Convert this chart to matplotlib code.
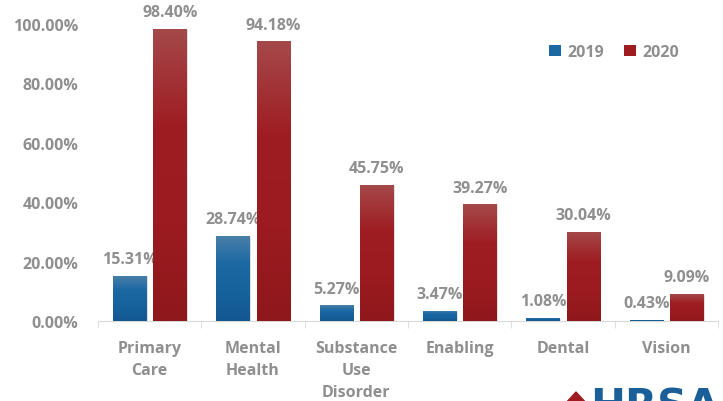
import matplotlib.pyplot as plt
import numpy as np
from matplotlib.colors import LinearSegmentedColormap
from matplotlib.patches import Polygon, Patch

categories = ["Primary\nCare", "Mental\nHealth", "Substance\nUse\nDisorder",
              "Enabling", "Dental", "Vision"]
vals_2019 = [15.31, 28.74, 5.27, 3.47, 1.08, 0.43]
vals_2020 = [98.40, 94.18, 45.75, 39.27, 30.04, 9.09]
yticks = [0, 20, 40, 60, 80, 100]

plt.rcParams["font.family"] = ["Open Sans", "DejaVu Sans"]
gray = "#8f8f8f"
fs = 11.5

fig = plt.figure(figsize=(7.23, 4.02), dpi=100)
ax = fig.add_axes([98 / 723, 80 / 402, 620 / 723, 297 / 402])

x = np.arange(len(categories))
w = 0.32
gap = 0.035

cm_blue = LinearSegmentedColormap.from_list("b", ["#4a7fa8", "#1b68a3", "#16629c", "#135890"])
cm_red = LinearSegmentedColormap.from_list("r", ["#a5484a", "#9e1d22", "#9b1b20", "#8f181c"])
grad = np.linspace(0, 1, 100).reshape(-1, 1)

for vals, off, cmap, col in [(vals_2019, -(w / 2 + gap), cm_blue, "#1b68a3"),
                             (vals_2020, w / 2 + gap, cm_red, "#9e1b20")]:
    # shadow
    ax.bar(x + off + 0.015, vals, w, bottom=-0.3, color="#000000", alpha=0.12, zorder=1)
    bars = ax.bar(x + off, vals, w, color=col, zorder=2)
    for b, v in zip(bars, vals):
        bx, bw = b.get_x(), b.get_width()
        im = ax.imshow(grad, cmap=cmap, aspect="auto", extent=[bx, bx + bw, 0, v],
                       zorder=3, interpolation="bilinear")
        im.set_clip_path(b)
        ax.annotate("{:.2f}%".format(v), (bx + bw / 2, v), xytext=(0, 12),
                    textcoords="offset points", ha="center", va="center",
                    fontsize=fs, fontweight="bold", color=gray, annotation_clip=False)

ax.set_xlim(-0.5, len(categories) - 0.5)
ax.set_ylim(0, 100)
ax.set_yticks(yticks)
ax.set_yticklabels(["{:.2f}%".format(t) for t in yticks])
ax.tick_params(axis="y", length=0, pad=14, labelsize=fs, labelcolor=gray)
for lab in ax.get_yticklabels():
    lab.set_fontweight("bold")

ax.set_xticks(x)
ax.set_xticklabels(categories, fontsize=fs, fontweight="bold", color=gray,
                   linespacing=1.48, va="top")
ax.tick_params(axis="x", length=0, pad=14)
ax.set_xticks(np.arange(-0.5, len(categories)), minor=True)
ax.tick_params(axis="x", which="minor", length=5, color="#d9d9d9")

for s in ["top", "right", "left"]:
    ax.spines[s].set_visible(False)
ax.spines["bottom"].set_color("#d9d9d9")

# legend
handles = [Patch(facecolor="#1b68a3", label="2019"), Patch(facecolor="#9e1b20", label="2020")]
leg = ax.legend(handles=handles, loc="upper left", bbox_to_anchor=(0.705, 0.98), ncol=2,
                frameon=False, handlelength=0.7, handleheight=0.7, handletextpad=0.4,
                columnspacing=1.3, prop={"size": fs, "weight": "bold"})
for t in leg.get_texts():
    t.set_color(gray)

# partial logo at the bottom right
fig.text(590 / 723, -0.065, "HRSA", fontsize=30, fontweight="bold", color="#1a5f98",
         ha="left", va="bottom", family="DejaVu Sans")
fig.patches.append(Polygon([[564 / 723, -0.01], [576 / 723, 9 / 402], [588 / 723, -0.01]],
                           closed=True, transform=fig.transFigure, color="#9e1b20"))

fig.savefig("out.png", dpi=100)
